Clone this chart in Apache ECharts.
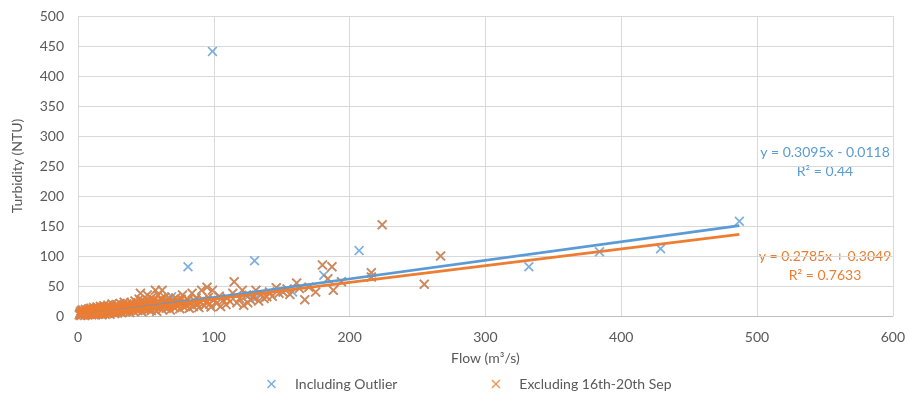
<!DOCTYPE html>
<html>
<head>
<meta charset="utf-8">
<script src="https://cdn.jsdelivr.net/npm/echarts@6/dist/echarts.min.js"></script>
<style>
  html, body { margin: 0; padding: 0; background: #ffffff; }
  #chart { width: 908px; height: 399px; }
</style>
</head>
<body>
<div id="chart"></div>
<script>
// Samples kept in both series (all days except 16th-20th Sep)
const keptFlow = [
  1, 1.5, 2, 2, 2.5, 3, 3, 3.5, 4, 4, 4.5, 5, 5, 5.5, 6, 6, 6.5, 7, 7, 7.5, 8, 8, 8.5, 9, 9, 9.5, 10, 10, 10,
  11, 11, 11.5, 12, 12, 12.5, 13, 13, 13.5, 14, 14, 14.5, 15, 15, 15, 16, 16, 16.5, 17, 17, 17.5, 18, 18, 18.5, 19, 19, 19.5, 20, 20,
  21, 21, 21.5, 22, 22, 23, 23, 23.5, 24, 24, 25, 25, 25.5, 26, 26, 27, 27, 27.5, 28, 28, 28.5, 29, 29, 30, 30,
  31, 31, 32, 32, 33, 33, 34, 34, 35, 35, 36, 36, 37, 37, 38, 38, 39, 39, 40, 40,
  41, 41, 42, 42, 43, 43, 44, 44, 45, 45, 46, 46, 47, 47, 48, 48, 49, 49, 50, 50,
  51, 51, 52, 52, 53, 53, 54, 54, 55, 55, 56, 56, 57, 57, 58, 58, 59, 59, 60, 60,
  61, 62, 62, 63, 63, 64, 65, 65, 66, 67, 67, 68, 68, 69, 70,
  71, 72, 72, 73, 74, 75, 75, 76, 77, 77, 78, 79, 80,
  81, 82, 83, 84, 85, 86, 87, 88, 89, 90, 91, 92, 93, 95, 95, 96, 97, 98, 99, 100,
  102, 104, 105, 107, 109, 110, 112, 114, 115, 117, 119, 121, 122, 124, 125, 127, 129, 131, 133, 135, 137, 139, 141, 143, 146, 148,
  151, 154, 156, 161, 163, 167, 170, 175, 180, 184, 187, 188, 194,
  216, 216, 224, 255, 267
];
const keptTurbidity = [
  2, 5, 1, 8, 3, 6, 10, 2, 4, 9, 7, 1, 5, 11, 3, 8, 6, 2, 10, 4, 7, 12, 3, 5, 9, 13, 2, 6, 11,
  4, 8, 14, 3, 10, 6, 12, 2, 8, 5, 15, 10, 3, 7, 13, 9, 4, 16, 6, 11, 2, 8, 14, 5, 10, 17, 7, 3, 12,
  9, 15, 5, 11, 18, 7, 13, 3, 10, 16, 6, 20, 12, 8, 14, 4, 17, 10, 7, 13, 19, 9, 5, 11, 16,
  8, 21, 13, 6, 10, 18, 12, 23, 7, 15, 11, 20, 9, 14, 17, 6, 12, 22, 10, 16,
  8, 19, 13, 25, 11, 17, 9, 21, 14, 28, 12, 38, 16, 7, 19, 24, 10, 15, 22, 13,
  35, 17, 11, 26, 20, 14, 9, 30, 18, 23, 12, 27, 43, 16, 21, 8, 35, 25, 14, 19,
  28, 43, 11, 22, 17, 31, 13, 24, 20, 15, 29, 10, 22, 18, 26,
  14, 21, 30, 17, 25, 12, 19, 28, 35, 22, 15, 24, 18,
  27, 13, 21, 38, 16, 25, 30, 19, 14, 23, 43, 27, 17, 48, 24, 31, 20, 15, 43, 28,
  21, 33, 16, 26, 19, 30, 24, 38, 57, 22, 29, 43, 18, 35, 22, 27, 31, 43, 25, 36, 29, 32, 40, 33, 47, 38,
  40, 45, 36, 55, 46, 27, 48, 40, 85, 62, 82, 43, 57,
  72, 65, 152, 53, 100
];
// Extra samples from 16th-20th Sep, present only in the full series
const sepFlow = [99, 81, 130, 207, 181, 332, 384, 429, 487, 158, 131, 69, 126];
const sepTurbidity = [441, 82, 92, 109, 68, 82, 107, 112, 158, 40, 30, 32, 35];

// Linear trendline fits: [slope, intercept, R²]
const fitIncluding = [0.3095, -0.0118, '0.44'];
const fitExcluding = [0.2785, 0.3049, '0.7633'];
const trendRange = [0, 487];

const seriesNames = ['Including Outlier', 'Excluding 16th-20th Sep'];
const xTicks = [0, 600, 100];
const yTicks = [0, 500, 50];

const BLUE = '#5B9BD5';
const ORANGE = '#ED7D31';
const TEXT = '#595959';
const FONT = 'Lato, "Noto Sans", sans-serif';
const FS = 14;
const CROSS = 'path://M0,1.2L1.2,0L5,3.8L8.8,0L10,1.2L6.2,5L10,8.8L8.8,10L5,6.2L1.2,10L0,8.8L3.8,5Z';

const pairs = (xs, ys) => xs.map((x, i) => [x, ys[i]]);
const includingData = pairs(keptFlow, keptTurbidity).concat(pairs(sepFlow, sepTurbidity));
const excludingData = pairs(keptFlow, keptTurbidity);
const trendPoints = fit => trendRange.map(x => [x, fit[0] * x + fit[1]]);
const fmt = v => (v < 0 ? '- ' : '+ ') + Math.abs(v).toFixed(4);
const eqText = fit => 'y = ' + fit[0].toFixed(4) + 'x ' + fmt(fit[1]) + '\nR² = ' + fit[2];

const chart = echarts.init(document.getElementById('chart'), null, { renderer: 'canvas' });
chart.setOption({
  animation: false,
  backgroundColor: '#ffffff',
  grid: { left: 78, right: 13, top: 16, bottom: 83, containLabel: false },
  xAxis: {
    type: 'value', min: xTicks[0], max: xTicks[1], interval: xTicks[2],
    name: 'Flow (m³/s)', nameLocation: 'middle', nameGap: 35,
    nameTextStyle: { color: TEXT, fontFamily: FONT, fontSize: FS },
    axisLine: { show: true, lineStyle: { color: '#BFBFBF', width: 1 } },
    axisTick: { show: false },
    axisLabel: { color: TEXT, fontFamily: FONT, fontSize: FS, margin: 14 },
    splitLine: { show: true, lineStyle: { color: '#D9D9D9', width: 1 } }
  },
  yAxis: {
    type: 'value', min: yTicks[0], max: yTicks[1], interval: yTicks[2],
    name: 'Turbidity (NTU)', nameLocation: 'middle', nameGap: 54,
    nameTextStyle: { color: TEXT, fontFamily: FONT, fontSize: FS },
    axisLine: { show: false },
    axisTick: { show: false },
    axisLabel: { color: TEXT, fontFamily: FONT, fontSize: FS, margin: 14 },
    splitLine: { show: true, lineStyle: { color: '#D9D9D9', width: 1 } }
  },
  legend: {
    bottom: 3, left: 262,
    itemWidth: 9, itemHeight: 9, itemGap: 94,
    textStyle: { color: TEXT, fontFamily: FONT, fontSize: FS, padding: [0, 0, 0, 14] },
    data: [
      { name: seriesNames[0], icon: CROSS, itemStyle: { color: BLUE } },
      { name: seriesNames[1], icon: CROSS, itemStyle: { color: ORANGE } }
    ]
  },
  series: [
    {
      name: seriesNames[0], type: 'scatter', data: includingData,
      symbol: CROSS, symbolSize: 10, itemStyle: { color: BLUE }
    },
    {
      name: seriesNames[1], type: 'scatter', data: excludingData,
      symbol: CROSS, symbolSize: 10, itemStyle: { color: ORANGE }
    },
    {
      name: 'trend-including', type: 'line', data: trendPoints(fitIncluding),
      showSymbol: false, symbol: 'none', silent: true,
      lineStyle: { color: BLUE, width: 2.75 }
    },
    {
      name: 'trend-excluding', type: 'line', data: trendPoints(fitExcluding),
      showSymbol: false, symbol: 'none', silent: true,
      lineStyle: { color: ORANGE, width: 2.75 }
    }
  ],
  graphic: [
    {
      type: 'text', x: 825, y: 143,
      style: { text: eqText(fitIncluding), fill: BLUE, font: FS + 'px ' + FONT, align: 'center', verticalAlign: 'top', lineHeight: 19 }
    },
    {
      type: 'text', x: 825, y: 247,
      style: { text: eqText(fitExcluding), fill: ORANGE, font: FS + 'px ' + FONT, align: 'center', verticalAlign: 'top', lineHeight: 19 }
    }
  ]
});
</script>
</body>
</html>
